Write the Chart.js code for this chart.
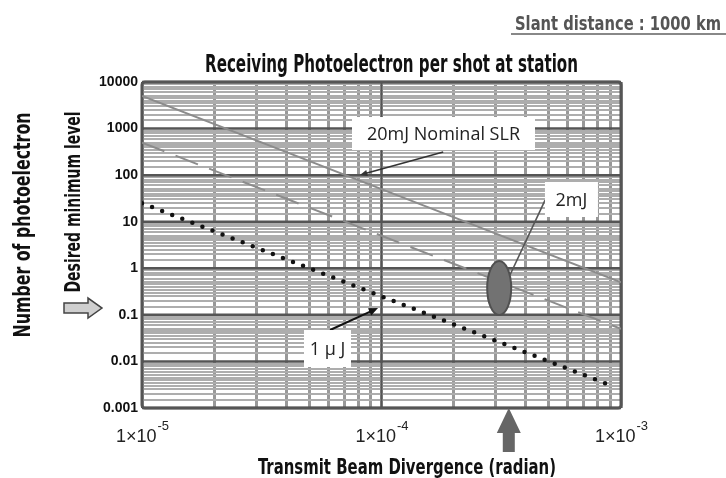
<!DOCTYPE html>
<html>
<head>
<meta charset="utf-8">
<script src="https://cdn.jsdelivr.net/npm/chart.js@4.4.1/dist/chart.umd.min.js"></script>
<style>
  html, body { margin: 0; padding: 0; background: #fff; }
  #wrap { width: 726px; height: 478px; }
</style>
</head>
<body>
<div id="wrap"><canvas id="pe" width="726" height="478"></canvas></div>
<script>
// beam divergence (radian) where the curves were read
const divergence = [1e-5, 1e-4, 1e-3];
const divergence1uJ = [1e-5, 1e-4, 9.3e-4];
// photoelectrons per shot at the station
const pe20mJ = [5000, 50, 0.5];
const pe2mJ = [500, 5, 0.05];
const pe1uJ = [25, 0.25, 0.0029];
const seriesNames = ['20mJ Nominal SLR', '2mJ', '1 \u03bc J'];

const yTickValues = [0.001, 0.01, 0.1, 1, 10, 100, 1000, 10000];
const yTickLabels = ['0.001', '0.01', '0.1', '1', '10', '100', '1000', '10000'];
const xTickValues = [1e-5, 1e-4, 1e-3];
const xTickExponents = ['-5', '-4', '-3'];
// gridline steps inside one decade
const xMinorSteps = [1, 2, 3, 4, 5, 6, 7, 8, 9];
const yMinorSteps = [1, 1.5, 2, 2.5, 3, 3.5, 4, 4.5, 5, 6, 7, 8, 9];

const NARROW = "'Liberation Sans Narrow', 'DejaVu Sans Condensed', sans-serif";
const SANS = "'Liberation Sans', Arial, sans-serif";
const LABEL = "'Open Sans', sans-serif";

function isDecade(v) {
  const l = Math.log10(v);
  return Math.abs(l - Math.round(l)) < 1e-6;
}

function gridValues(decades, steps) {
  const max = decades[decades.length - 1];
  const out = [];
  decades.forEach(d => steps.forEach(s => {
    const v = +(d * s).toPrecision(6);
    if (v <= max * 1.000001) out.push(v);
  }));
  return out;
}

// draw text squeezed/stretched to a given width (condensed look)
function fitText(ctx, text, x, y, width, angle) {
  const w = ctx.measureText(text).width;
  ctx.save();
  ctx.translate(x, y);
  if (angle) ctx.rotate(angle);
  ctx.scale(width / w, 1);
  ctx.textAlign = 'center';
  ctx.fillText(text, 0, 0);
  ctx.restore();
}

function arrow(ctx, x1, y1, x2, y2, head, color, width) {
  const ang = Math.atan2(y2 - y1, x2 - x1);
  ctx.strokeStyle = color;
  ctx.fillStyle = color;
  ctx.lineWidth = width;
  ctx.beginPath();
  ctx.moveTo(x1, y1);
  ctx.lineTo(x2 - Math.cos(ang) * head * 0.8, y2 - Math.sin(ang) * head * 0.8);
  ctx.stroke();
  if (head > 0) {
    ctx.beginPath();
    ctx.moveTo(x2, y2);
    ctx.lineTo(x2 - head * Math.cos(ang - 0.4), y2 - head * Math.sin(ang - 0.4));
    ctx.lineTo(x2 - head * Math.cos(ang + 0.4), y2 - head * Math.sin(ang + 0.4));
    ctx.closePath();
    ctx.fill();
  }
}

function textBox(ctx, cx, cy, w, h, text) {
  ctx.fillStyle = '#fff';
  ctx.fillRect(cx - w / 2, cy - h / 2, w, h);
  ctx.fillStyle = '#222';
  ctx.font = '18px ' + LABEL;
  ctx.textAlign = 'center';
  ctx.textBaseline = 'middle';
  ctx.fillText(text, cx, cy + 1);
}

const decor = {
  id: 'decor',
  beforeDatasetsDraw(chart) {
    const { ctx, chartArea: a, scales: { x, y } } = chart;
    ctx.save();
    ctx.strokeStyle = '#555';
    ctx.lineWidth = 2.5;
    yTickValues.forEach(v => {
      const py = y.getPixelForValue(v);
      ctx.beginPath(); ctx.moveTo(a.left, py); ctx.lineTo(a.right, py); ctx.stroke();
    });
    ctx.lineWidth = 2;
    xTickValues.forEach(v => {
      const px = x.getPixelForValue(v);
      ctx.beginPath(); ctx.moveTo(px, a.top); ctx.lineTo(px, a.bottom); ctx.stroke();
    });
    ctx.lineWidth = 3;
    ctx.beginPath();
    ctx.roundRect(a.left, a.top, a.width, a.height, 3);
    ctx.stroke();
    ctx.restore();
  },
  afterDraw(chart) {
    const { ctx, chartArea: a, scales: { x, y } } = chart;
    const X = v => x.getPixelForValue(v);
    const Y = v => y.getPixelForValue(v);
    ctx.save();

    // 2mJ ellipse
    ctx.beginPath();
    ctx.ellipse(X(3.1e-4), Y(0.377), 12, 27, 0, 0, Math.PI * 2);
    ctx.fillStyle = '#727272';
    ctx.fill();
    ctx.lineWidth = 2;
    ctx.strokeStyle = '#505050';
    ctx.stroke();

    // callouts
    arrow(ctx, X(1.81e-4), Y(314), X(8.13e-5), Y(100.7), 8, '#333', 1.6);
    textBox(ctx, X(1.815e-4), Y(783), 183, 33, seriesNames[0]);
    arrow(ctx, X(4.82e-4), Y(29.2), X(3.44e-4), Y(0.718), 0, '#555', 1.6);
    textBox(ctx, X(6.21e-4), Y(30), 53, 35, seriesNames[1]);
    arrow(ctx, X(6.1e-5), Y(0.0473), X(9.67e-5), Y(0.14), 10, '#111', 2);
    textBox(ctx, X(5.95e-5), Y(0.01894), 47, 37, seriesNames[2]);

    // x tick labels 1x10^n
    ctx.fillStyle = '#222';
    ctx.textBaseline = 'alphabetic';
    ctx.textAlign = 'left';
    xTickValues.forEach((v, i) => {
      ctx.font = '18px ' + SANS;
      const base = '1\u00d710';
      const bw = ctx.measureText(base).width;
      ctx.font = '13px ' + SANS;
      const sw = ctx.measureText(xTickExponents[i]).width;
      const left = X(v) - (bw + sw) / 2;
      ctx.font = '18px ' + SANS;
      ctx.fillText(base, left, a.bottom + 34);
      ctx.font = '13px ' + SANS;
      ctx.fillText(xTickExponents[i], left + bw + 1, a.bottom + 22);
    });

    // pointer under the x axis
    const ax = X(3.4e-4);
    ctx.fillStyle = '#666';
    ctx.beginPath();
    ctx.moveTo(ax, a.bottom);
    ctx.lineTo(ax + 12, a.bottom + 25);
    ctx.lineTo(ax + 6, a.bottom + 25);
    ctx.lineTo(ax + 6, a.bottom + 44);
    ctx.lineTo(ax - 6, a.bottom + 44);
    ctx.lineTo(ax - 6, a.bottom + 25);
    ctx.lineTo(ax - 12, a.bottom + 25);
    ctx.closePath();
    ctx.fill();

    // titles
    ctx.fillStyle = '#111';
    ctx.font = 'bold 24px ' + NARROW;
    fitText(ctx, 'Receiving Photoelectron per shot at station', 391.5, a.top - 10, 373);
    ctx.font = 'bold 22px ' + NARROW;
    fitText(ctx, 'Transmit Beam Divergence (radian)', 407, 474, 298);

    ctx.fillStyle = '#555';
    ctx.font = 'bold 20px ' + NARROW;
    fitText(ctx, 'Slant distance : 1000 km', 618, 30, 206);
    ctx.strokeStyle = '#888';
    ctx.lineWidth = 2;
    ctx.beginPath(); ctx.moveTo(511, 34); ctx.lineTo(726, 34); ctx.stroke();

    // rotated y titles
    ctx.fillStyle = '#111';
    ctx.font = 'bold 23px ' + NARROW;
    fitText(ctx, 'Number of photoelectron', 30, 225, 225, -Math.PI / 2);
    ctx.font = 'bold 22px ' + NARROW;
    fitText(ctx, 'Desired minimum level', 80, 202, 181, -Math.PI / 2);

    // hollow arrow at the desired level
    const hy = Y(0.14);
    ctx.beginPath();
    ctx.moveTo(64, hy - 5);
    ctx.lineTo(88, hy - 5);
    ctx.lineTo(88, hy - 10);
    ctx.lineTo(102, hy);
    ctx.lineTo(88, hy + 10);
    ctx.lineTo(88, hy + 5);
    ctx.lineTo(64, hy + 5);
    ctx.closePath();
    ctx.fillStyle = '#cfcfcf';
    ctx.fill();
    ctx.strokeStyle = '#444';
    ctx.lineWidth = 1.5;
    ctx.stroke();

    ctx.restore();
  }
};

const points = (xs, ys) => xs.map((v, i) => ({ x: v, y: ys[i] }));

new Chart(document.getElementById('pe'), {
  type: 'line',
  data: {
    datasets: [
      {
        label: seriesNames[0],
        data: points(divergence, pe20mJ),
        borderColor: '#8c8c8c',
        borderWidth: 2,
        pointRadius: 0
      },
      {
        label: seriesNames[1],
        data: points(divergence, pe2mJ),
        borderColor: '#8c8c8c',
        borderWidth: 2,
        borderDash: [24, 12],
        pointRadius: 0
      },
      {
        label: seriesNames[2],
        data: points(divergence1uJ, pe1uJ),
        borderColor: '#111',
        borderWidth: 4.5,
        borderDash: [0, 10.8],
        borderCapStyle: 'round',
        pointRadius: 0
      }
    ]
  },
  options: {
    responsive: false,
    devicePixelRatio: 1,
    animation: false,
    layout: { padding: { top: 82, right: 105, left: 0, bottom: 0 } },
    plugins: { legend: { display: false }, tooltip: { enabled: false } },
    scales: {
      x: {
        type: 'logarithmic',
        min: 1e-5,
        max: 1e-3,
        afterFit: s => { s.height = 70; },
        afterBuildTicks: s => { s.ticks = gridValues(xTickValues, xMinorSteps).map(v => ({ value: v })); },
        ticks: { display: false, autoSkip: false },
        border: { display: false },
        grid: { color: '#999', lineWidth: 3, drawTicks: false }
      },
      y: {
        type: 'logarithmic',
        min: 0.001,
        max: 10000,
        afterFit: s => { s.width = 142; },
        afterBuildTicks: s => { s.ticks = gridValues(yTickValues, yMinorSteps).map(v => ({ value: v })); },
        ticks: {
          autoSkip: false,
          padding: 4,
          color: '#111',
          font: { family: SANS, size: 14, weight: 'bold' },
          callback: v => {
            const i = yTickValues.findIndex(t => Math.abs(t - v) / t < 1e-6);
            return i >= 0 ? yTickLabels[i] : '';
          }
        },
        border: { display: false },
        grid: {
          color: c => isDecade(c.tick.value) ? 'rgba(0,0,0,0)' : '#adadad',
          lineWidth: 2,
          drawTicks: false
        }
      }
    }
  },
  plugins: [decor]
});
</script>
</body>
</html>
